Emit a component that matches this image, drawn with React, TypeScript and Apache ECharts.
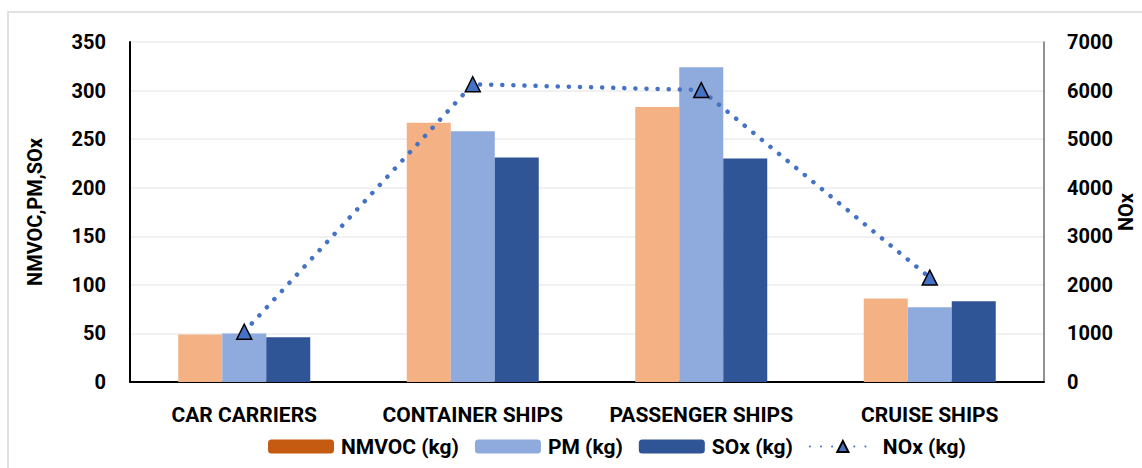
import React, { useEffect, useRef } from "react";
import * as echarts from "echarts";

const categories = ["CAR CARRIERS", "CONTAINER SHIPS", "PASSENGER SHIPS", "CRUISE SHIPS"];
const nmvoc = [49, 267, 283, 86];
const pm = [50, 258, 324, 77];
const sox = [46, 231, 230, 83];
const nox = [1035, 6130, 6010, 2150];
const leftTicks = { min: 0, max: 350, interval: 50 };
const rightTicks = { min: 0, max: 7000, interval: 1000 };
const rightTitle = "NOx";

const FONT = "Roboto, 'Noto Sans', sans-serif";

export default function App() {
  const ref = useRef<HTMLDivElement>(null);
  useEffect(() => {
    if (!ref.current) return;
    const chart = echarts.init(ref.current, undefined, { renderer: "svg" });
    const labelStyle = { color: "#000", fontFamily: FONT, fontWeight: "bold" as const };
    chart.setOption({
      animation: false,
      backgroundColor: "#fff",
      textStyle: { fontFamily: FONT },
      graphic: [
        {
          type: "rect",
          shape: { x: 8, y: 12, width: 1300, height: 600 },
          style: { fill: "none", stroke: "#d9d9d9", lineWidth: 1.5 },
          silent: true,
          z: -10,
        },
        {
          type: "text",
          x: 1126,
          y: 212,
          rotation: Math.PI / 2,
          style: {
            text: rightTitle,
            fill: "#000",
            font: `bold 20px ${FONT}`,
            align: "center",
            verticalAlign: "middle",
          },
          silent: true,
        },
      ],
      grid: { left: 130, right: 98, top: 42, bottom: 86, outerBoundsMode: "none", containLabel: false },
      legend: {
        left: 263,
        top: 431,
        itemWidth: 66,
        itemHeight: 14,
        itemGap: 16,
        textStyle: { ...labelStyle, fontSize: 21, padding: [0, 0, 0, 2] },
        data: [
          { name: "NMVOC (kg)", itemStyle: { color: "#C55A11" } },
          "PM (kg)",
          "SOx (kg)",
          "NOx (kg)",
        ],
      },
      xAxis: {
        type: "category",
        data: categories,
        axisLine: { lineStyle: { color: "#000", width: 2 } },
        axisTick: { show: false },
        axisLabel: { ...labelStyle, fontSize: 21, margin: 22, interval: 0 },
      },
      yAxis: [
        {
          type: "value",
          ...leftTicks,
          name: "NMVOC,PM,SOx",
          nameLocation: "middle",
          nameRotate: 90,
          nameGap: 85,
          nameTextStyle: { ...labelStyle, fontSize: 20 },
          axisLine: { show: true, lineStyle: { color: "#000", width: 2 } },
          axisTick: { show: false },
          axisLabel: { ...labelStyle, fontSize: 20, margin: 24 },
          splitLine: { lineStyle: { color: "#ececec", width: 1.5 } },
        },
        {
          type: "value",
          ...rightTicks,
          position: "right",
          axisLine: { show: true, lineStyle: { color: "#6e6e6e", width: 1.5 } },
          axisTick: { show: false },
          axisLabel: { ...labelStyle, fontSize: 20, margin: 23, formatter: (v: number) => String(v) },
          splitLine: { show: false },
        },
      ],
      series: [
        {
          name: "NMVOC (kg)",
          type: "bar",
          data: nmvoc,
          barWidth: 44,
          barGap: "0%",
          itemStyle: { color: "#F4B183" },
        },
        {
          name: "PM (kg)",
          type: "bar",
          data: pm,
          barWidth: 44,
          barGap: "0%",
          itemStyle: { color: "#8FAADC" },
        },
        {
          name: "SOx (kg)",
          type: "bar",
          data: sox,
          barWidth: 44,
          barGap: "0%",
          itemStyle: { color: "#2F5597" },
        },
        {
          name: "NOx (kg)",
          type: "line",
          yAxisIndex: 1,
          data: nox,
          symbol: "triangle",
          symbolSize: 15,
          lineStyle: { color: "#4472C4", width: 4.5, type: [0.1, 11], cap: "round" },
          itemStyle: { color: "#4472C4", borderColor: "#000", borderWidth: 1.5 },
          z: 5,
        },
      ],
    });
    return () => chart.dispose();
  }, []);
  return (
    <div
      ref={ref}
      style={{ position: "fixed", left: 0, top: 0, width: 1142, height: 468 }}
    />
  );
}
